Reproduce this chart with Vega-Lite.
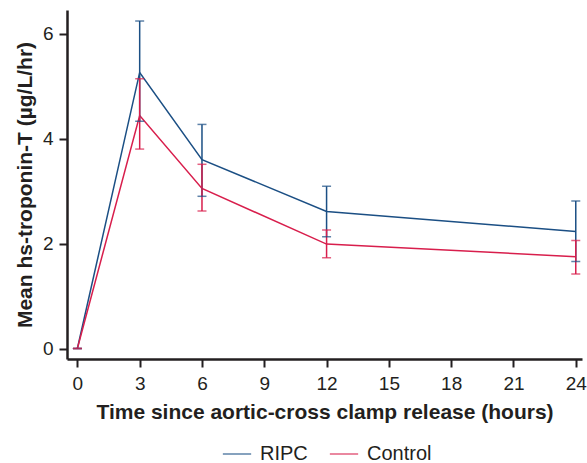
{
  "$schema": "https://vega.github.io/schema/vega-lite/v6.json",
  "description": "Mean hs-troponin-T over time, RIPC vs Control",
  "width": 515,
  "height": 349,
  "autosize": "none",
  "padding": {"left": 67, "top": 10, "right": 5, "bottom": 104},
  "data": {
    "values": [
      {"group": "RIPC", "time": 0, "mean": 0, "lower": 0, "upper": 0},
      {"group": "RIPC", "time": 3, "mean": 5.26, "lower": 4.33, "upper": 6.24},
      {"group": "RIPC", "time": 6, "mean": 3.6, "lower": 2.9, "upper": 4.27},
      {"group": "RIPC", "time": 12, "mean": 2.61, "lower": 2.13, "upper": 3.09},
      {"group": "RIPC", "time": 24, "mean": 2.23, "lower": 1.66, "upper": 2.81},
      {"group": "Control", "time": 0, "mean": 0, "lower": 0, "upper": 0},
      {"group": "Control", "time": 3, "mean": 4.44, "lower": 3.8, "upper": 5.14},
      {"group": "Control", "time": 6, "mean": 3.05, "lower": 2.62, "upper": 3.51},
      {"group": "Control", "time": 12, "mean": 1.99, "lower": 1.73, "upper": 2.26},
      {"group": "Control", "time": 24, "mean": 1.75, "lower": 1.42, "upper": 2.06}
    ]
  },
  "config": {
    "view": {"stroke": null},
    "font": "Liberation Sans",
    "axis": {
      "grid": false,
      "domainColor": "#231f20",
      "domainWidth": 2.5,
      "tickColor": "#231f20",
      "tickWidth": 2,
      "tickSize": 8,
      "labelFont": "Liberation Sans",
      "labelFontSize": 19,
      "labelColor": "#231f20",
      "titleFont": "Liberation Sans",
      "titleFontSize": 21,
      "titleFontWeight": "bold",
      "titleColor": "#231f20"
    }
  },
  "encoding": {
    "x": {
      "field": "time",
      "type": "quantitative",
      "scale": {"domain": [-0.5, 24.3], "nice": false, "zero": false},
      "axis": {
        "values": [0, 3, 6, 9, 12, 15, 18, 21, 24],
        "title": "Time since aortic-cross clamp release (hours)",
        "labelPadding": 7,
        "titlePadding": 8
      }
    },
    "color": {
      "field": "group",
      "type": "nominal",
      "scale": {"domain": ["RIPC", "Control"], "range": ["#1b4f84", "#d81e4c"]},
      "legend": {
        "title": null,
        "orient": "none",
        "legendX": 155,
        "legendY": 429,
        "direction": "horizontal",
        "symbolType": "stroke",
        "symbolSize": 800,
        "symbolStrokeWidth": 1.5,
        "labelFontSize": 20,
        "labelColor": "#231f20",
        "labelOffset": 8,
        "columnPadding": 18
      }
    }
  },
  "layer": [
    {
      "mark": {"type": "line", "strokeWidth": 1.5},
      "encoding": {
        "y": {
          "field": "mean",
          "type": "quantitative",
          "scale": {"domain": [-0.2, 6.45], "nice": false, "zero": false},
          "axis": {
            "values": [0, 2, 4, 6],
            "title": "Mean hs-troponin-T (µg/L/hr)",
            "labelPadding": 6,
            "titlePadding": 7
          }
        }
      }
    },
    {
      "mark": {"type": "rule", "strokeWidth": 1.5},
      "encoding": {
        "y": {"field": "lower", "type": "quantitative"},
        "y2": {"field": "upper"}
      }
    },
    {
      "mark": {"type": "tick", "orient": "horizontal", "size": 9, "thickness": 1.5},
      "encoding": {"y": {"field": "lower", "type": "quantitative"}}
    },
    {
      "mark": {"type": "tick", "orient": "horizontal", "size": 9, "thickness": 1.5},
      "encoding": {"y": {"field": "upper", "type": "quantitative"}}
    }
  ]
}
